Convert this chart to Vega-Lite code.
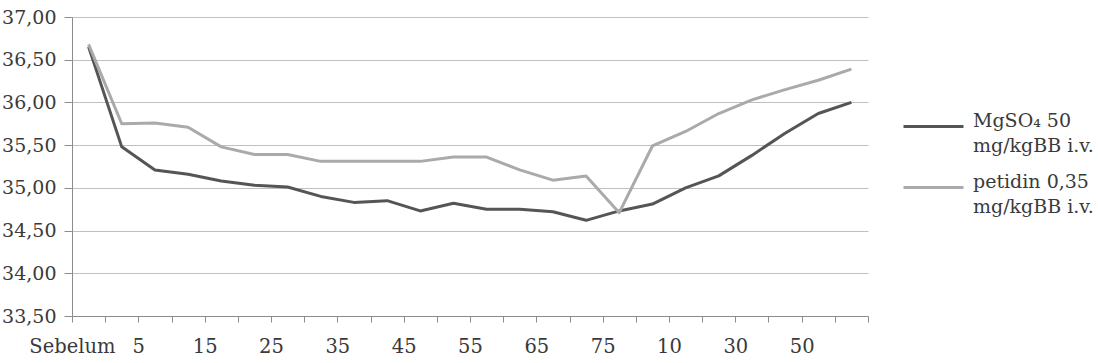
{
  "$schema": "https://vega.github.io/schema/vega-lite/v6.json",
  "width": 796,
  "height": 299,
  "autosize": {"type": "none"},
  "padding": {"left": 72, "top": 17, "right": 230, "bottom": 47},
  "background": "white",
  "config": {
    "view": {"stroke": null},
    "font": "DejaVu Serif",
    "axis": {"labelFont": "DejaVu Serif", "labelColor": "#3a3a3a", "labelFontSize": 19.5, "domainColor": "#8c8c8c", "tickColor": "#8c8c8c", "gridColor": "#c0c0c0"}
  },
  "data": {
    "values": [
      {"waktu": "Sebelum", "urut": 1, "kelompok": "MgSO₄ 50\nmg/kgBB i.v.", "suhu": 36.65},
      {"waktu": "0", "urut": 2, "kelompok": "MgSO₄ 50\nmg/kgBB i.v.", "suhu": 35.48},
      {"waktu": "5", "urut": 3, "kelompok": "MgSO₄ 50\nmg/kgBB i.v.", "suhu": 35.21},
      {"waktu": "10", "urut": 4, "kelompok": "MgSO₄ 50\nmg/kgBB i.v.", "suhu": 35.16},
      {"waktu": "15", "urut": 5, "kelompok": "MgSO₄ 50\nmg/kgBB i.v.", "suhu": 35.08},
      {"waktu": "20", "urut": 6, "kelompok": "MgSO₄ 50\nmg/kgBB i.v.", "suhu": 35.03},
      {"waktu": "25", "urut": 7, "kelompok": "MgSO₄ 50\nmg/kgBB i.v.", "suhu": 35.01},
      {"waktu": "30", "urut": 8, "kelompok": "MgSO₄ 50\nmg/kgBB i.v.", "suhu": 34.9},
      {"waktu": "35", "urut": 9, "kelompok": "MgSO₄ 50\nmg/kgBB i.v.", "suhu": 34.83},
      {"waktu": "40", "urut": 10, "kelompok": "MgSO₄ 50\nmg/kgBB i.v.", "suhu": 34.85},
      {"waktu": "45", "urut": 11, "kelompok": "MgSO₄ 50\nmg/kgBB i.v.", "suhu": 34.73},
      {"waktu": "50", "urut": 12, "kelompok": "MgSO₄ 50\nmg/kgBB i.v.", "suhu": 34.82},
      {"waktu": "55", "urut": 13, "kelompok": "MgSO₄ 50\nmg/kgBB i.v.", "suhu": 34.75},
      {"waktu": "60", "urut": 14, "kelompok": "MgSO₄ 50\nmg/kgBB i.v.", "suhu": 34.75},
      {"waktu": "65", "urut": 15, "kelompok": "MgSO₄ 50\nmg/kgBB i.v.", "suhu": 34.72},
      {"waktu": "70", "urut": 16, "kelompok": "MgSO₄ 50\nmg/kgBB i.v.", "suhu": 34.62},
      {"waktu": "75", "urut": 17, "kelompok": "MgSO₄ 50\nmg/kgBB i.v.", "suhu": 34.73},
      {"waktu": "R0", "urut": 18, "kelompok": "MgSO₄ 50\nmg/kgBB i.v.", "suhu": 34.81},
      {"waktu": "R10", "urut": 19, "kelompok": "MgSO₄ 50\nmg/kgBB i.v.", "suhu": 35.0},
      {"waktu": "R20", "urut": 20, "kelompok": "MgSO₄ 50\nmg/kgBB i.v.", "suhu": 35.14},
      {"waktu": "R30", "urut": 21, "kelompok": "MgSO₄ 50\nmg/kgBB i.v.", "suhu": 35.38},
      {"waktu": "R40", "urut": 22, "kelompok": "MgSO₄ 50\nmg/kgBB i.v.", "suhu": 35.64},
      {"waktu": "R50", "urut": 23, "kelompok": "MgSO₄ 50\nmg/kgBB i.v.", "suhu": 35.87},
      {"waktu": "R60", "urut": 24, "kelompok": "MgSO₄ 50\nmg/kgBB i.v.", "suhu": 36.0},
      {"waktu": "Sebelum", "urut": 1, "kelompok": "petidin 0,35\nmg/kgBB i.v.", "suhu": 36.68},
      {"waktu": "0", "urut": 2, "kelompok": "petidin 0,35\nmg/kgBB i.v.", "suhu": 35.75},
      {"waktu": "5", "urut": 3, "kelompok": "petidin 0,35\nmg/kgBB i.v.", "suhu": 35.76},
      {"waktu": "10", "urut": 4, "kelompok": "petidin 0,35\nmg/kgBB i.v.", "suhu": 35.71},
      {"waktu": "15", "urut": 5, "kelompok": "petidin 0,35\nmg/kgBB i.v.", "suhu": 35.48},
      {"waktu": "20", "urut": 6, "kelompok": "petidin 0,35\nmg/kgBB i.v.", "suhu": 35.39},
      {"waktu": "25", "urut": 7, "kelompok": "petidin 0,35\nmg/kgBB i.v.", "suhu": 35.39},
      {"waktu": "30", "urut": 8, "kelompok": "petidin 0,35\nmg/kgBB i.v.", "suhu": 35.31},
      {"waktu": "35", "urut": 9, "kelompok": "petidin 0,35\nmg/kgBB i.v.", "suhu": 35.31},
      {"waktu": "40", "urut": 10, "kelompok": "petidin 0,35\nmg/kgBB i.v.", "suhu": 35.31},
      {"waktu": "45", "urut": 11, "kelompok": "petidin 0,35\nmg/kgBB i.v.", "suhu": 35.31},
      {"waktu": "50", "urut": 12, "kelompok": "petidin 0,35\nmg/kgBB i.v.", "suhu": 35.36},
      {"waktu": "55", "urut": 13, "kelompok": "petidin 0,35\nmg/kgBB i.v.", "suhu": 35.36},
      {"waktu": "60", "urut": 14, "kelompok": "petidin 0,35\nmg/kgBB i.v.", "suhu": 35.21},
      {"waktu": "65", "urut": 15, "kelompok": "petidin 0,35\nmg/kgBB i.v.", "suhu": 35.09},
      {"waktu": "70", "urut": 16, "kelompok": "petidin 0,35\nmg/kgBB i.v.", "suhu": 35.14},
      {"waktu": "75", "urut": 17, "kelompok": "petidin 0,35\nmg/kgBB i.v.", "suhu": 34.71},
      {"waktu": "R0", "urut": 18, "kelompok": "petidin 0,35\nmg/kgBB i.v.", "suhu": 35.49},
      {"waktu": "R10", "urut": 19, "kelompok": "petidin 0,35\nmg/kgBB i.v.", "suhu": 35.66},
      {"waktu": "R20", "urut": 20, "kelompok": "petidin 0,35\nmg/kgBB i.v.", "suhu": 35.87},
      {"waktu": "R30", "urut": 21, "kelompok": "petidin 0,35\nmg/kgBB i.v.", "suhu": 36.03},
      {"waktu": "R40", "urut": 22, "kelompok": "petidin 0,35\nmg/kgBB i.v.", "suhu": 36.15},
      {"waktu": "R50", "urut": 23, "kelompok": "petidin 0,35\nmg/kgBB i.v.", "suhu": 36.26},
      {"waktu": "R60", "urut": 24, "kelompok": "petidin 0,35\nmg/kgBB i.v.", "suhu": 36.39}
    ]
  },
  "mark": {"type": "line", "strokeWidth": 3, "strokeJoin": "round"},
  "encoding": {
    "x": {
      "field": "waktu",
      "type": "ordinal",
      "sort": {"field": "urut"},
      "scale": {"type": "band", "paddingInner": 0, "paddingOuter": 0},
      "axis": {
        "title": null,
        "tickBand": "extent",
        "labelOffset": -16.6,
        "labelAngle": 0,
        "labelAlign": "center",
        "tickSize": 6,
        "labelPadding": 15,
        "grid": false,
        "labelExpr": "indexof(['Sebelum','5','15','25','35','45','55','65','75','R10','R30','R50'], datum.value) >= 0 ? replace(datum.value, 'R', '') : ''"
      }
    },
    "y": {
      "field": "suhu",
      "type": "quantitative",
      "scale": {"domain": [33.5, 37], "nice": false, "zero": false},
      "axis": {
        "title": null,
        "values": [33.5, 34, 34.5, 35, 35.5, 36, 36.5, 37],
        "tickSize": 8,
        "labelPadding": 8,
        "labelFontSize": 19,
        "grid": true,
        "labelExpr": "replace(format(datum.value, '.2f'), '.', ',')"
      }
    },
    "color": {
      "field": "kelompok",
      "type": "nominal",
      "scale": {"range": ["#555555", "#aaaaaa"]},
      "legend": {
        "title": null,
        "orient": "none",
        "legendX": 830,
        "legendY": 78,
        "symbolType": "stroke",
        "symbolSize": 3600,
        "symbolStrokeWidth": 3,
        "labelFont": "DejaVu Serif",
        "labelFontSize": 19,
        "labelColor": "#3a3a3a",
        "labelLimit": 300,
        "labelBaseline": "alphabetic",
        "rowPadding": 0,
        "labelOffset": 8,
        "labelExpr": "split(datum.label, '\\n')",
        "encode": {"labels": {"update": {"lineHeight": {"value": 25}}}}
      }
    }
  }
}
